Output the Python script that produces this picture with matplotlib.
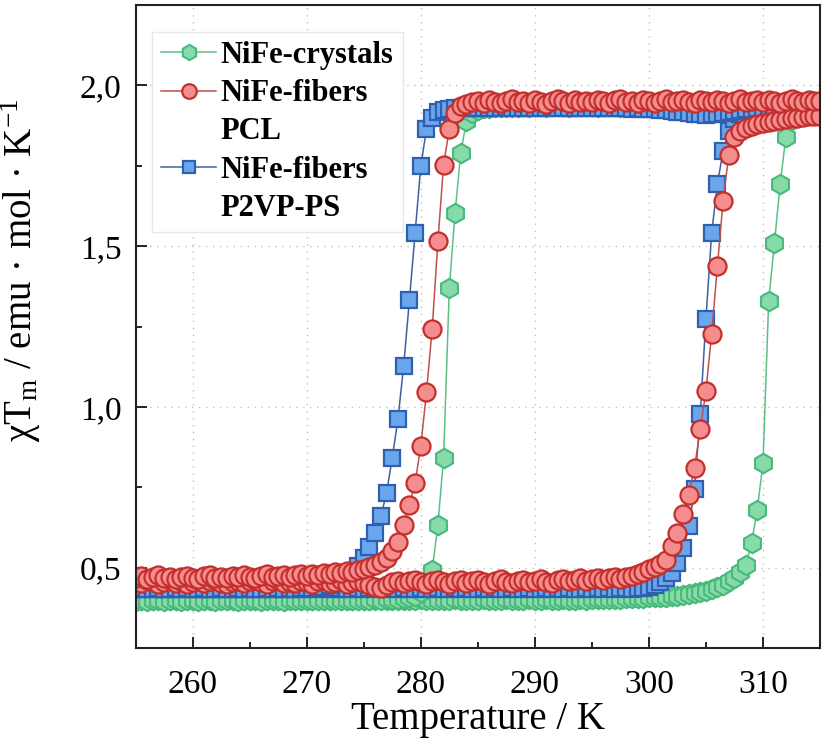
import matplotlib
matplotlib.use("Agg")
import numpy as np
import matplotlib.pyplot as plt
from matplotlib.lines import Line2D
from matplotlib.ticker import MultipleLocator, FuncFormatter

plt.rcParams['font.family'] = ['Liberation Serif', 'DejaVu Serif']
plt.rcParams['mathtext.fontset'] = 'custom'
plt.rcParams['mathtext.rm'] = 'Liberation Serif'
plt.rcParams['mathtext.it'] = 'Liberation Serif:italic'

# temperature sweep, 0.5 K steps (255 ... 315 K)
temperature = [
    255.0, 255.5, 256.0, 256.5, 257.0, 257.5, 258.0, 258.5, 259.0, 259.5,
    260.0, 260.5, 261.0, 261.5, 262.0, 262.5, 263.0, 263.5, 264.0, 264.5,
    265.0, 265.5, 266.0, 266.5, 267.0, 267.5, 268.0, 268.5, 269.0, 269.5,
    270.0, 270.5, 271.0, 271.5, 272.0, 272.5, 273.0, 273.5, 274.0, 274.5,
    275.0, 275.5, 276.0, 276.5, 277.0, 277.5, 278.0, 278.5, 279.0, 279.5,
    280.0, 280.5, 281.0, 281.5, 282.0, 282.5, 283.0, 283.5, 284.0, 284.5,
    285.0, 285.5, 286.0, 286.5, 287.0, 287.5, 288.0, 288.5, 289.0, 289.5,
    290.0, 290.5, 291.0, 291.5, 292.0, 292.5, 293.0, 293.5, 294.0, 294.5,
    295.0, 295.5, 296.0, 296.5, 297.0, 297.5, 298.0, 298.5, 299.0, 299.5,
    300.0, 300.5, 301.0, 301.5, 302.0, 302.5, 303.0, 303.5, 304.0, 304.5,
    305.0, 305.5, 306.0, 306.5, 307.0, 307.5, 308.0, 308.5, 309.0, 309.5,
    310.0, 310.5, 311.0, 311.5, 312.0, 312.5, 313.0, 313.5, 314.0, 314.5,
    315.0,
]

# NiFe-crystals
crystals_heat = [
    0.400, 0.401, 0.399, 0.400, 0.402, 0.400, 0.399, 0.401, 0.400, 0.400,
    0.401, 0.400, 0.399, 0.400, 0.401, 0.402, 0.400, 0.399, 0.400, 0.401,
    0.400, 0.401, 0.400, 0.399, 0.400, 0.401, 0.400, 0.402, 0.401, 0.400,
    0.399, 0.400, 0.401, 0.400, 0.400, 0.402, 0.401, 0.400, 0.399, 0.400,
    0.401, 0.400, 0.401, 0.402, 0.400, 0.399, 0.400, 0.401, 0.400, 0.401,
    0.402, 0.400, 0.401, 0.400, 0.399, 0.401, 0.402, 0.400, 0.401, 0.400,
    0.401, 0.402, 0.400, 0.401, 0.400, 0.402, 0.401, 0.400, 0.401, 0.402,
    0.401, 0.400, 0.402, 0.401, 0.401, 0.402, 0.400, 0.401, 0.402, 0.401,
    0.402, 0.402, 0.403, 0.403, 0.404, 0.404, 0.405, 0.405, 0.406, 0.407,
    0.408, 0.409, 0.410, 0.411, 0.412, 0.414, 0.416, 0.418, 0.421, 0.424,
    0.428, 0.433, 0.440, 0.448, 0.458, 0.470, 0.487, 0.509, 0.577, 0.681,
    0.827, 1.330, 1.509, 1.692, 1.838, 1.892, 1.912, 1.922, 1.927, 1.930,
    1.932,
]
crystals_cool = [
    0.398, 0.399, 0.398, 0.400, 0.399, 0.398, 0.399, 0.400, 0.398, 0.399,
    0.399, 0.398, 0.400, 0.399, 0.398, 0.399, 0.400, 0.399, 0.398, 0.399,
    0.400, 0.399, 0.398, 0.399, 0.400, 0.399, 0.398, 0.400, 0.399, 0.400,
    0.399, 0.400, 0.399, 0.401, 0.400, 0.399, 0.400, 0.401, 0.400, 0.401,
    0.400, 0.401, 0.402, 0.401, 0.402, 0.403, 0.404, 0.406, 0.409, 0.414,
    0.425, 0.445, 0.494, 0.634, 0.843, 1.369, 1.603, 1.790, 1.888, 1.915,
    1.925, 1.929, 1.931, 1.932, 1.933, 1.933, 1.934, 1.934, 1.935, 1.934,
    1.935, 1.936, 1.934, 1.935, 1.936, 1.935, 1.934, 1.936, 1.935, 1.935,
    1.936, 1.934, 1.935, 1.936, 1.935, 1.934, 1.935, 1.936, 1.935, 1.934,
    1.935, 1.936, 1.935, 1.934, 1.935, 1.936, 1.935, 1.935, 1.934, 1.935,
    1.936, 1.935, 1.934, 1.935, 1.936, 1.935, 1.934, 1.935, 1.936, 1.935,
    1.935, 1.934, 1.936, 1.935, 1.935, 1.934, 1.935, 1.936, 1.935, 1.935,
    1.935,
]

# NiFe-fibers PCL
pcl_heat = [
    0.458, 0.452, 0.461, 0.455, 0.449, 0.457, 0.462, 0.453, 0.458, 0.450,
    0.456, 0.461, 0.452, 0.458, 0.463, 0.454, 0.449, 0.457, 0.460, 0.452,
    0.458, 0.463, 0.455, 0.450, 0.459, 0.462, 0.454, 0.457, 0.452, 0.460,
    0.455, 0.449, 0.458, 0.462, 0.453, 0.457, 0.461, 0.451, 0.456, 0.459,
    0.453, 0.447, 0.441, 0.436, 0.448, 0.455, 0.460, 0.452, 0.458, 0.462,
    0.456, 0.451, 0.459, 0.463, 0.455, 0.450, 0.458, 0.461, 0.454, 0.459,
    0.462, 0.455, 0.450, 0.458, 0.464, 0.456, 0.452, 0.460, 0.463, 0.455,
    0.459, 0.465, 0.457, 0.452, 0.461, 0.466, 0.458, 0.463, 0.468, 0.460,
    0.464, 0.470, 0.462, 0.467, 0.473, 0.466, 0.471, 0.476, 0.481, 0.486,
    0.495, 0.503, 0.513, 0.525, 0.567, 0.608, 0.666, 0.728, 0.812, 0.931,
    1.051, 1.228, 1.437, 1.640, 1.785, 1.838, 1.858, 1.868, 1.874, 1.879,
    1.884, 1.887, 1.890, 1.893, 1.895, 1.898, 1.900, 1.902, 1.904, 1.905,
    1.906,
]
pcl_cool = [
    0.468, 0.474, 0.465, 0.471, 0.477, 0.469, 0.473, 0.466, 0.472, 0.476,
    0.470, 0.465, 0.474, 0.478, 0.469, 0.473, 0.467, 0.475, 0.471, 0.477,
    0.472, 0.468, 0.476, 0.480, 0.471, 0.475, 0.479, 0.473, 0.477, 0.482,
    0.476, 0.481, 0.478, 0.484, 0.480, 0.486, 0.483, 0.489, 0.487, 0.493,
    0.498, 0.503, 0.509, 0.517, 0.530, 0.551, 0.582, 0.634, 0.697, 0.764,
    0.879, 1.046, 1.244, 1.515, 1.754, 1.864, 1.915, 1.935, 1.942, 1.947,
    1.951, 1.946, 1.955, 1.949, 1.944, 1.953, 1.958, 1.948, 1.952, 1.945,
    1.954, 1.949, 1.943, 1.952, 1.957, 1.950, 1.946, 1.955, 1.949, 1.953,
    1.947, 1.956, 1.951, 1.945, 1.954, 1.958, 1.949, 1.952, 1.946, 1.955,
    1.950, 1.944, 1.953, 1.957, 1.948, 1.952, 1.956, 1.949, 1.945, 1.954,
    1.951, 1.947, 1.955, 1.950, 1.946, 1.953, 1.958, 1.949, 1.952, 1.956,
    1.948, 1.954, 1.950, 1.945, 1.953, 1.957, 1.951, 1.948, 1.955, 1.950,
    1.952,
]

# NiFe-fibers P2VP-PS
p2vp_heat = [
    0.435, 0.433, 0.436, 0.434, 0.437, 0.435, 0.433, 0.436, 0.434, 0.435,
    0.437, 0.434, 0.435, 0.433, 0.436, 0.435, 0.434, 0.437, 0.435, 0.433,
    0.436, 0.434, 0.435, 0.437, 0.434, 0.436, 0.433, 0.435, 0.436, 0.434,
    0.435, 0.437, 0.434, 0.436, 0.435, 0.433, 0.436, 0.434, 0.435, 0.437,
    0.434, 0.436, 0.435, 0.433, 0.436, 0.435, 0.434, 0.437, 0.435, 0.434,
    0.436, 0.435, 0.433, 0.436, 0.434, 0.435, 0.437, 0.434, 0.436, 0.435,
    0.434, 0.436, 0.435, 0.437, 0.434, 0.435, 0.436, 0.434, 0.435, 0.437,
    0.435, 0.434, 0.436, 0.435, 0.437, 0.434, 0.436, 0.435, 0.434, 0.436,
    0.435, 0.437, 0.434, 0.436, 0.435, 0.436, 0.437, 0.435, 0.436, 0.438,
    0.441, 0.447, 0.456, 0.468, 0.483, 0.515, 0.561, 0.629, 0.744, 0.978,
    1.275, 1.541, 1.692, 1.796, 1.858, 1.895, 1.912, 1.920, 1.924, 1.926,
    1.927, 1.928, 1.928, 1.929, 1.930, 1.930, 1.930, 1.931, 1.931, 1.932,
    1.932,
]
p2vp_cool = [
    0.434, 0.436, 0.435, 0.433, 0.436, 0.434, 0.435, 0.437, 0.434, 0.436,
    0.435, 0.433, 0.436, 0.435, 0.434, 0.437, 0.435, 0.434, 0.436, 0.435,
    0.436, 0.434, 0.435, 0.437, 0.435, 0.436, 0.434, 0.436, 0.435, 0.437,
    0.437, 0.438, 0.440, 0.442, 0.446, 0.452, 0.460, 0.470, 0.485, 0.505,
    0.530, 0.565, 0.610, 0.660, 0.733, 0.843, 0.963, 1.129, 1.332, 1.541,
    1.749, 1.864, 1.900, 1.918, 1.925, 1.928, 1.929, 1.930, 1.930, 1.930,
    1.931, 1.930, 1.929, 1.931, 1.930, 1.932, 1.930, 1.929, 1.931, 1.930,
    1.931, 1.929, 1.930, 1.932, 1.930, 1.929, 1.931, 1.930, 1.930, 1.929,
    1.930, 1.931, 1.929, 1.930, 1.929, 1.930, 1.929, 1.928, 1.929, 1.928,
    1.928, 1.926, 1.924, 1.922, 1.920, 1.918, 1.916, 1.914, 1.912, 1.910,
    1.909, 1.910, 1.912, 1.915, 1.918, 1.921, 1.924, 1.926, 1.928, 1.929,
    1.930, 1.930, 1.931, 1.931, 1.930, 1.931, 1.932, 1.931, 1.932, 1.932,
    1.932,
]

labels = ['NiFe-crystals', 'NiFe-fibers', 'PCL', 'NiFe-fibers', 'P2VP-PS']

green = dict(marker='h', ms=14, mfc='#86dba8', mec='#48b97c', mew=1.5,
             color='#5cbf86', lw=1.1)
red = dict(marker='o', ms=13, mfc='#f48e8e', mec='#c42f2c', mew=1.6,
           color='#c0504d', lw=1.1)
blue = dict(marker='s', ms=11, mfc='#6aa6ec', mec='#2e5fb0', mew=1.6,
            color='#3f609f', lw=1.1)

fig = plt.figure(figsize=(8.22, 7.41), dpi=100)
ax = fig.add_axes([0.165, 0.1251, 0.8326, 0.8682])

ax.plot(temperature, crystals_heat, **green)
ax.plot(temperature, crystals_cool, **green)
ax.plot(temperature, p2vp_heat, **blue)
ax.plot(temperature, p2vp_cool, **blue)
ax.plot(temperature, pcl_heat, **red)
ax.plot(temperature, pcl_cool, **red)

ax.set_xlim(255, 315)
ax.set_ylim(0.25, 2.25)
ax.xaxis.set_major_locator(MultipleLocator(10))
ax.xaxis.set_minor_locator(MultipleLocator(5))
ax.yaxis.set_major_locator(MultipleLocator(0.5))
ax.yaxis.set_minor_locator(MultipleLocator(0.25))
ax.yaxis.set_major_formatter(FuncFormatter(lambda v, _: f"{v:.1f}".replace('.', ',')))

ax.tick_params(which='both', direction='in', top=False, right=False,
               width=1.2, labelsize=24)
ax.tick_params(axis='x', which='major', length=8, pad=15)
ax.tick_params(axis='y', which='major', length=8, pad=10)
ax.tick_params(which='minor', length=4.5)
for s in ax.spines.values():
    s.set_linewidth(1.5)
    s.set_color('#222222')

ax.grid(True, which='major', linestyle=(0, (1, 4)), color='#c0c0c0', lw=1)
ax.set_axisbelow(True)

ax.set_xlabel('Temperature / K', fontsize=28, labelpad=1)
ax.set_ylabel('χT$_\\mathrm{m}$ / emu · mol · K$^{-1}$', fontsize=28)
ax.yaxis.set_label_coords(-0.135, 0.588)

handles = [
    Line2D([], [], **{**green, 'ms': 11}),
    Line2D([], [], **{**red, 'ms': 10.5}),
    Line2D([], [], color='none'),
    Line2D([], [], **{**blue, 'ms': 9}),
    Line2D([], [], color='none'),
]
leg = ax.legend(handles, labels, loc='upper left', bbox_to_anchor=(0.024, 0.958),
                borderaxespad=0, prop={'family': 'Liberation Serif', 'weight': 'bold', 'size': 22},
                handlelength=1.8, handletextpad=0.15, labelspacing=0.3, borderpad=0.3,
                fancybox=False, framealpha=1, edgecolor='#e8e8e8')
leg.get_frame().set_linewidth(1)

fig.savefig('out.png', dpi=100)
